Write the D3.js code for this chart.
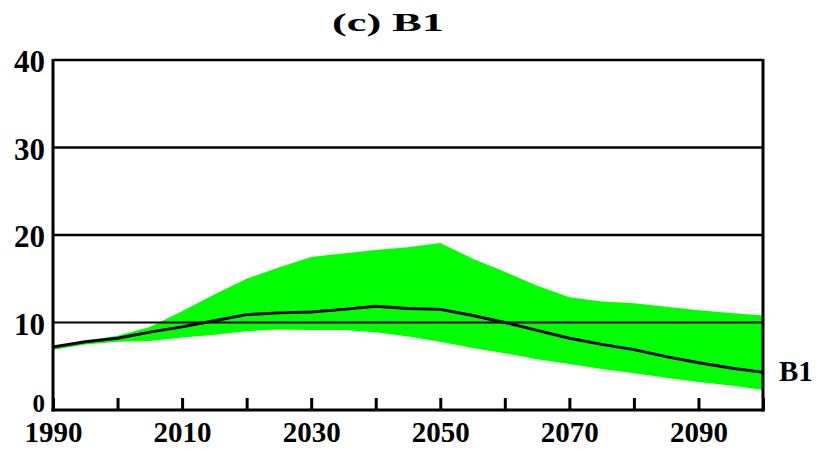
<!DOCTYPE html>
<html>
<head>
<meta charset="utf-8">
<script src="https://cdn.jsdelivr.net/npm/d3@7"></script>
<style>
  html, body { margin: 0; padding: 0; background: #ffffff; }
  svg { display: block; }
</style>
</head>
<body>
<svg id="chart" width="817" height="449"></svg>
<script>
// ---- data ----
const years  = [1990, 1995, 2000, 2005, 2010, 2015, 2020, 2025, 2030, 2035, 2040, 2045, 2050, 2055, 2060, 2065, 2070, 2075, 2080, 2085, 2090, 2095, 2100];
const upper  = [7.3, 7.9, 8.5, 9.5, 11.3, 13.2, 15.0, 16.3, 17.5, 17.9, 18.3, 18.6, 19.1, 17.3, 15.8, 14.2, 12.9, 12.4, 12.2, 11.8, 11.4, 11.1, 10.8];
const median = [7.2, 7.8, 8.2, 8.9, 9.5, 10.2, 10.9, 11.1, 11.2, 11.5, 11.85, 11.6, 11.5, 10.8, 10.0, 9.1, 8.2, 7.5, 6.9, 6.1, 5.4, 4.8, 4.3];
const lower  = [6.9, 7.5, 7.8, 7.9, 8.3, 8.6, 9.0, 9.2, 9.14, 9.14, 8.9, 8.4, 7.8, 7.1, 6.5, 5.8, 5.25, 4.7, 4.2, 3.7, 3.2, 2.8, 2.3];
const xTicks = [1990, 2000, 2010, 2020, 2030, 2040, 2050, 2060, 2070, 2080, 2090, 2100];
const xTickLabels = ["1990", "", "2010", "", "2030", "", "2050", "", "2070", "", "2090", ""];
const yTicks = [0, 10, 20, 30, 40];
const title = "(c) B1";
const seriesLabel = "B1";

const rows = years.map((y, i) => ({ year: y, hi: upper[i], mid: median[i], lo: lower[i] }));

const svg = d3.select("#chart");
const x = d3.scaleLinear().domain([1990, 2100]).range([53, 763]);
const y = d3.scaleLinear().domain([0, 40]).range([410, 60]);
const FONT = "'Liberation Serif', 'Times New Roman', serif";

// band
svg.append("path")
  .datum(rows)
  .attr("fill", "#00ff00")
  .attr("d", d3.area().x(d => x(d.year)).y0(d => y(d.lo)).y1(d => y(d.hi)));

// gridlines
svg.append("g").selectAll("line")
  .data(yTicks.filter(v => v > 0))
  .join("line")
  .attr("x1", x(1990)).attr("x2", x(2100))
  .attr("y1", d => y(d)).attr("y2", d => y(d))
  .attr("stroke", "#000").attr("stroke-width", d => d === 10 ? 2 : 2.6);

// median line
svg.append("path")
  .datum(rows)
  .attr("fill", "none")
  .attr("stroke", "#000")
  .attr("stroke-width", 3)
  .attr("d", d3.line().x(d => x(d.year)).y(d => y(d.mid)));

// bottom axis with inward ticks
const xAxis = d3.axisBottom(x)
  .tickValues(xTicks)
  .tickSize(-12)
  .tickFormat((d, i) => xTickLabels[i]);
const gx = svg.append("g").attr("transform", `translate(0,${y(0)})`).call(xAxis);
gx.select(".domain").remove();
gx.selectAll(".tick line").attr("stroke", "#000").attr("stroke-width", 3);
gx.selectAll(".tick text")
  .attr("y", 32).attr("dy", null)
  .attr("font-family", FONT).attr("font-weight", "bold").attr("font-size", 29)
  .attr("fill", "#000");

// left axis labels
const yAxis = d3.axisLeft(y).tickValues(yTicks).tickSize(0).tickPadding(8).tickFormat(d3.format("d"));
const gy = svg.append("g").attr("transform", `translate(${x(1990)},0)`).call(yAxis);
gy.select(".domain").remove();
gy.selectAll(".tick text")
  .attr("dy", d => d === 0 ? "0.04em" : "0.38em")
  .attr("font-family", FONT).attr("font-weight", "bold").attr("font-size", d => d === 0 ? 25 : 31)
  .attr("fill", "#000");

// frame: left, bottom, right
const frame = svg.append("g").attr("stroke", "#000").attr("stroke-width", 3);
frame.append("line").attr("x1", x(1990)).attr("x2", x(1990)).attr("y1", y(40) - 1).attr("y2", y(0) + 1.5);
frame.append("line").attr("x1", x(1990) - 1.5).attr("x2", x(2100) + 1.5).attr("y1", y(0)).attr("y2", y(0));
frame.append("line").attr("x1", x(2100)).attr("x2", x(2100)).attr("y1", y(40) - 1).attr("y2", y(0) + 1.5);

// title
svg.append("text")
  .attr("x", 388).attr("y", 31)
  .attr("text-anchor", "middle")
  .attr("font-family", FONT).attr("font-weight", "bold").attr("font-size", 26)
  .attr("textLength", 112).attr("lengthAdjust", "spacingAndGlyphs")
  .text(title);

// series label at the end of the median line
svg.append("text")
  .attr("x", 779).attr("y", y(median[median.length - 1]) + 9)
  .attr("font-family", FONT).attr("font-weight", "bold").attr("font-size", 29)
  .text(seriesLabel);
</script>
</body>
</html>
